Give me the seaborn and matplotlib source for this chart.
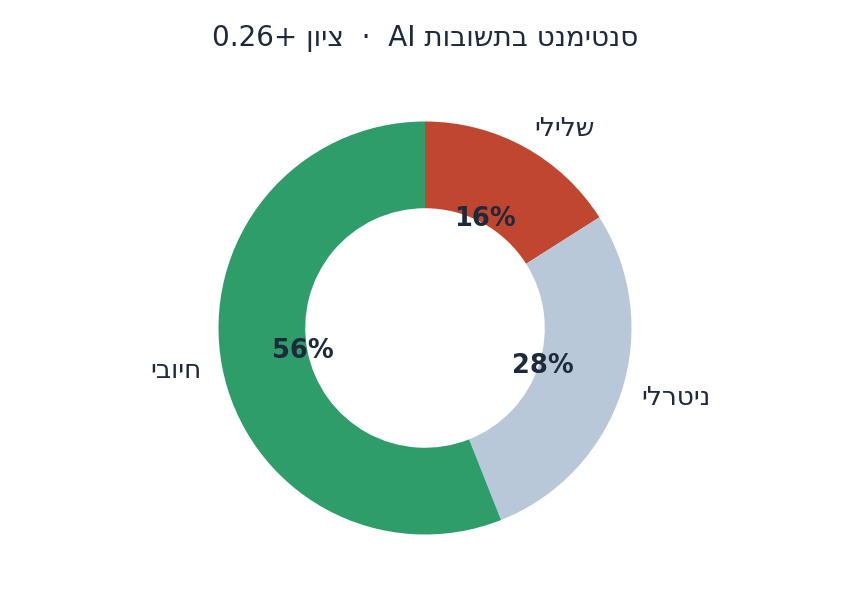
import matplotlib.pyplot as plt
import seaborn as sns

# Sentiment shares (labels stored in visual order, matplotlib has no bidi)
labels = ['ילילש', 'ילרטינ', 'יבויח']
shares = [16, 28, 56]
colors = ['#c0462f', '#b8c8d8', '#2e9d69']
title = '0.26+ ןויצ  ·  AI תובושתב טנמיטנס'

sns.set_theme(style='white')
plt.rcParams['font.family'] = ['DejaVu Sans']
text_color = '#1e293b'

fig = plt.figure(figsize=(8.5, 6.12), dpi=100)
ax = fig.add_axes([175 / 850, 34 / 612, 500 / 850, 500 / 612])

wedges, texts, autotexts = ax.pie(
    shares, labels=labels, colors=colors, startangle=90, counterclock=False,
    autopct='%1.0f%%', pctdistance=0.6, labeldistance=1.1,
    wedgeprops={'width': 0.42, 'linewidth': 0},
    textprops={'color': text_color, 'fontsize': 19},
)
for t in autotexts:
    t.set_fontsize(18.5)
    t.set_fontweight('bold')
    t.set_color(text_color)

lim = 250 / 206.5
ax.set_xlim(-lim, lim)
ax.set_ylim(-lim, lim)
ax.set_aspect('equal')
ax.axis('off')

fig.text(0.5, 1 - 38 / 612, title, ha='center', va='center',
         fontsize=20, color=text_color)

fig.savefig('out.png', dpi=100)
